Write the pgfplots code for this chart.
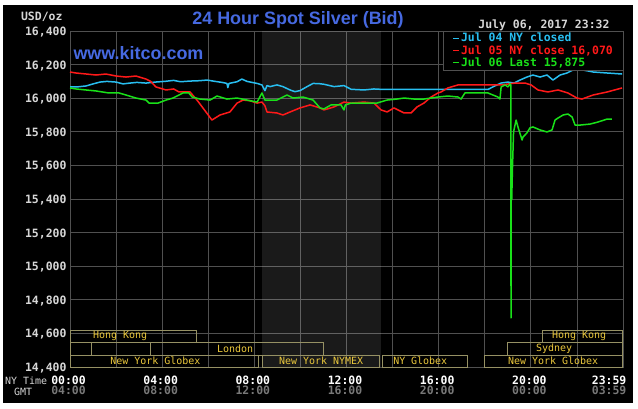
\documentclass[border=0pt]{standalone}
\usepackage{fontspec}
\usepackage{pgfplots}
\pgfplotsset{compat=1.18}
\setmainfont{Liberation Sans}
\setmonofont{DejaVu Sans Mono}
\newfontfamily\lsans{Liberation Sans}

\definecolor{kblue}{RGB}{70,105,225}
\definecolor{kcyan}{RGB}{40,190,240}
\definecolor{kred}{RGB}{255,25,25}
\definecolor{kgreen}{RGB}{25,225,25}
\definecolor{kgrid}{RGB}{80,80,80}
\definecolor{klabel}{RGB}{215,215,215}
\definecolor{kgmt}{RGB}{120,120,120}
\definecolor{ksess}{RGB}{150,145,100}
\definecolor{ksesstext}{RGB}{235,200,60}

\newcommand\tickfont{\ttfamily\bfseries\fontsize{11.5}{11}\selectfont}
\newcommand\sessfont{\ttfamily\fontsize{10}{10}\selectfont}

\pgfplotstableread{
h v
0 16067
0.3 16067
0.7 16073
1.0 16085
1.3 16096
1.6 16100
2.0 16096
2.3 16085
2.6 16090
2.9 16094
3.3 16090
3.7 16096
4.1 16100
4.5 16106
4.8 16098
5.21 16102
5.6 16104
5.95 16108
6.3 16100
6.6 16094
6.81 16088
6.85 16063
6.9 16088
7.25 16098
7.46 16114
7.68 16100
8.12 16088
8.33 16079
8.46 16045
8.55 16075
8.68 16069
8.98 16079
9.24 16069
9.55 16049
9.76 16039
9.98 16045
10.29 16069
10.55 16088
10.85 16086
11.02 16083
11.46 16069
11.89 16075
12.2 16053
12.76 16049
13.19 16055
13.6 16052
18.14 16052
18.35 16067
18.7 16090
19.0 16096
19.27 16090
19.53 16108
19.83 16126
20.09 16138
20.4 16126
20.7 16138
20.96 16108
21.27 16138
21.57 16150
21.83 16168
22.0 16190
22.26 16168
22.7 16156
23.31 16150
23.96 16144
}\jula

\pgfplotstableread{
h v
0 16156
0.26 16150
0.7 16144
1.13 16138
1.56 16144
2.0 16132
2.43 16126
2.86 16132
3.30 16114
3.5 16100
3.73 16067
4.17 16049
4.5 16055
4.73 16037
5.21 16037
5.51 15989
5.77 15942
6.16 15870
6.51 15900
6.94 15918
7.25 15971
7.51 15989
7.8 15985
8.12 15971
8.33 15977
8.46 15955
8.55 15918
8.98 15912
9.24 15900
9.55 15918
9.98 15942
10.42 15960
10.85 15942
11.02 15930
11.46 15948
11.89 15977
12.20 15971
12.76 15977
13.19 15971
13.50 15930
13.76 15918
14.06 15942
14.50 15912
14.80 15912
15.06 15948
15.36 15971
15.67 16007
15.97 16031
16.10 16037
16.40 16061
16.84 16079
17.40 16079
18.14 16079
18.71 16079
19.31 16090
19.75 16090
20.01 16079
20.31 16049
20.74 16037
21.18 16049
21.61 16031
22.00 16001
22.22 15995
22.70 16019
23.31 16037
23.96 16061
}\julb

\pgfplotstableread{
h v
0 16061
0.26 16055
0.69 16049
1.13 16043
1.69 16031
2.13 16031
2.43 16019
2.86 16001
3.30 15989
3.43 15971
3.82 15971
4.17 15989
4.47 16001
4.90 16031
5.16 16031
5.3 16007
5.64 15995
6.08 15989
6.38 16013
6.81 15995
7.25 16001
7.68 15989
8.12 15977
8.33 16031
8.46 15989
8.98 15989
9.42 16019
9.68 16001
10.11 16007
10.55 15989
10.85 15942
11.02 15936
11.33 15960
11.76 15960
11.89 15930
11.95 15960
12.20 15971
12.76 15971
13.32 15971
13.76 15989
14.19 15995
14.50 16001
14.93 15995
15.36 15995
15.67 16001
15.97 16007
16.40 16013
16.84 16007
16.97 15995
17.14 16031
18.14 16031
18.57 16007
18.66 15995
18.71 16067
18.88 16079
19.01 16067
19.10 16085
19.13 16079
19.14 14692
19.15 15454
19.17 15394
19.20 15573
19.25 15800
19.36 15870
19.44 15829
19.62 15751
19.66 15769
19.83 15793
19.96 15823
20.09 15829
20.40 15811
20.70 15799
20.92 15811
21.05 15870
21.18 15882
21.40 15900
21.61 15906
21.79 15888
21.92 15840
22.13 15840
22.57 15846
22.91 15858
23.31 15876
23.52 15876
}\julc

\begin{document}
\begin{tikzpicture}[x=1bp,y=1bp]
\fill[white] (0,0) rectangle (638,408);
\fill[black] (3,5) rectangle (633,403);
\begin{axis}[
  at={(70bp,41bp)}, anchor=south west,
  width=553bp, height=336bp, scale only axis,
  xmin=0, xmax=24, ymin=14400, ymax=16400,
  clip=false,
  scaled y ticks=false,
  axis line style={kgrid, line width=0.8bp},
  grid=both,
  major grid style={kgrid, line width=0.8bp},
  minor grid style={kgrid, line width=0.8bp},
  xtick={0,4,8,12,16,20},
  minor xtick={2,6,10,14,18,22},
  xticklabels={{00:00\\\textcolor{kgmt}{04:00}},{04:00\\\textcolor{kgmt}{08:00}},{08:00\\\textcolor{kgmt}{12:00}},{12:00\\\textcolor{kgmt}{16:00}},{16:00\\\textcolor{kgmt}{20:00}},{20:00\\\textcolor{kgmt}{00:00}}},
  extra x ticks={23.983},
  extra x tick labels={{23:59\\\textcolor{kgmt}{03:59}}},
  extra x tick style={grid=none, xticklabel style={xshift=-12bp}},
  ytick={14400,14600,14800,15000,15200,15400,15600,15800,16000,16200,16400},
  yticklabels={{14,400},{14,600},{14,800},{15,000},{15,200},{15,400},{15,600},{15,800},{16,000},{16,200},{16,400}},
  major tick length=0pt, minor tick length=0pt,
  tick label style={font=\tickfont, text=klabel},
  yticklabel style={yshift=-1bp},
  xticklabel style={align=center, text=white, yshift=-5bp, xshift=-1.5bp},
  every axis plot/.append style={line width=1.5bp, line join=round},
  legend style={at={(1,1)}, anchor=north east, fill=black, draw=kgrid,
    font=\tickfont, inner xsep=9bp, inner ysep=1bp, row sep=0bp,
    nodes={inner sep=1bp},
    /tikz/every even column/.append style={column sep=3bp}},
  legend cell align=left,
  legend image code/.code={\draw[#1, line width=1.5bp] (0bp,0bp) -- (6bp,0bp);},
]
\addplot[draw=none, fill=white, fill opacity=0.1, forget plot] coordinates {(8.333,16400) (13.5,16400)} \closedcycle;
\addplot[kcyan] table[x=h,y=v] {\jula};
\addlegendentry{\textcolor{kcyan}{Jul 04 NY closed}}
\addplot[kred] table[x=h,y=v] {\julb};
\addlegendentry{\textcolor{kred}{Jul 05 NY close 16,070}}
\addplot[kgreen] table[x=h,y=v] {\julc};
\addlegendentry{\textcolor{kgreen}{Jul 06 Last 15,875}}

% trading sessions
\draw[ksess, line width=1bp] (axis cs:0,14543) rectangle (axis cs:5.5,14620);
\draw[ksess, line width=1bp] (axis cs:20.5,14543) rectangle (axis cs:23.983,14620);
\draw[ksess, line width=1bp] (axis cs:0,14471) rectangle (axis cs:0.95,14543);
\draw[ksess, line width=1bp] (axis cs:3.5,14471) rectangle (axis cs:11.0,14543);
\draw[ksess, line width=1bp] (axis cs:19.0,14471) rectangle (axis cs:23.983,14543);
\draw[ksess, line width=1bp] (axis cs:0,14400) rectangle (axis cs:8.2,14471);
\draw[ksess, line width=1bp] (axis cs:8.333,14400) rectangle (axis cs:13.45,14471);
\draw[ksess, line width=1bp] (axis cs:13.58,14400) rectangle (axis cs:17.25,14471);
\draw[ksess, line width=1bp] (axis cs:18.0,14400) rectangle (axis cs:23.983,14471);
\node[anchor=west, inner sep=0, font=\sessfont, text=ksesstext] at (axis cs:1.0,14582) {Hong Kong};
\node[anchor=west, inner sep=0, font=\sessfont, text=ksesstext] at (axis cs:20.92,14582) {Hong Kong};
\node[anchor=west, inner sep=0, font=\sessfont, text=ksesstext] at (axis cs:6.38,14507) {London};
\node[anchor=west, inner sep=0, font=\sessfont, text=ksesstext] at (axis cs:20.22,14507) {Sydney};
\node[anchor=west, inner sep=0, font=\sessfont, text=ksesstext] at (axis cs:1.74,14436) {New York Globex};
\node[anchor=west, inner sep=0, font=\sessfont, text=ksesstext] at (axis cs:9.07,14436) {New York NYMEX};
\node[anchor=west, inner sep=0, font=\sessfont, text=ksesstext] at (axis cs:14.02,14436) {NY Globex};
\node[anchor=west, inner sep=0, font=\sessfont, text=ksesstext] at (axis cs:19.01,14436) {New York Globex};
\end{axis}
\node[font=\lsans\bfseries\fontsize{18}{18}\selectfont, text=kblue] at (298,388) {24 Hour Spot Silver (Bid)};
\node[font=\tickfont, text=klabel, anchor=east] at (613,383) {July 06, 2017 23:32};
\node[font=\tickfont, text=klabel, anchor=east] at (66,391) {USD/oz};
\node[font=\lsans\bfseries\fontsize{18}{18}\selectfont, text=kblue, anchor=west] at (70,355) {www.kitco.com};
\node[font=\ttfamily\fontsize{10}{10}\selectfont, text=klabel, anchor=west, inner sep=0] at (5,27) {NY Time};
\node[font=\ttfamily\fontsize{10}{10}\selectfont, text=klabel, anchor=west, inner sep=0] at (14,16) {GMT};
\end{tikzpicture}
\end{document}
